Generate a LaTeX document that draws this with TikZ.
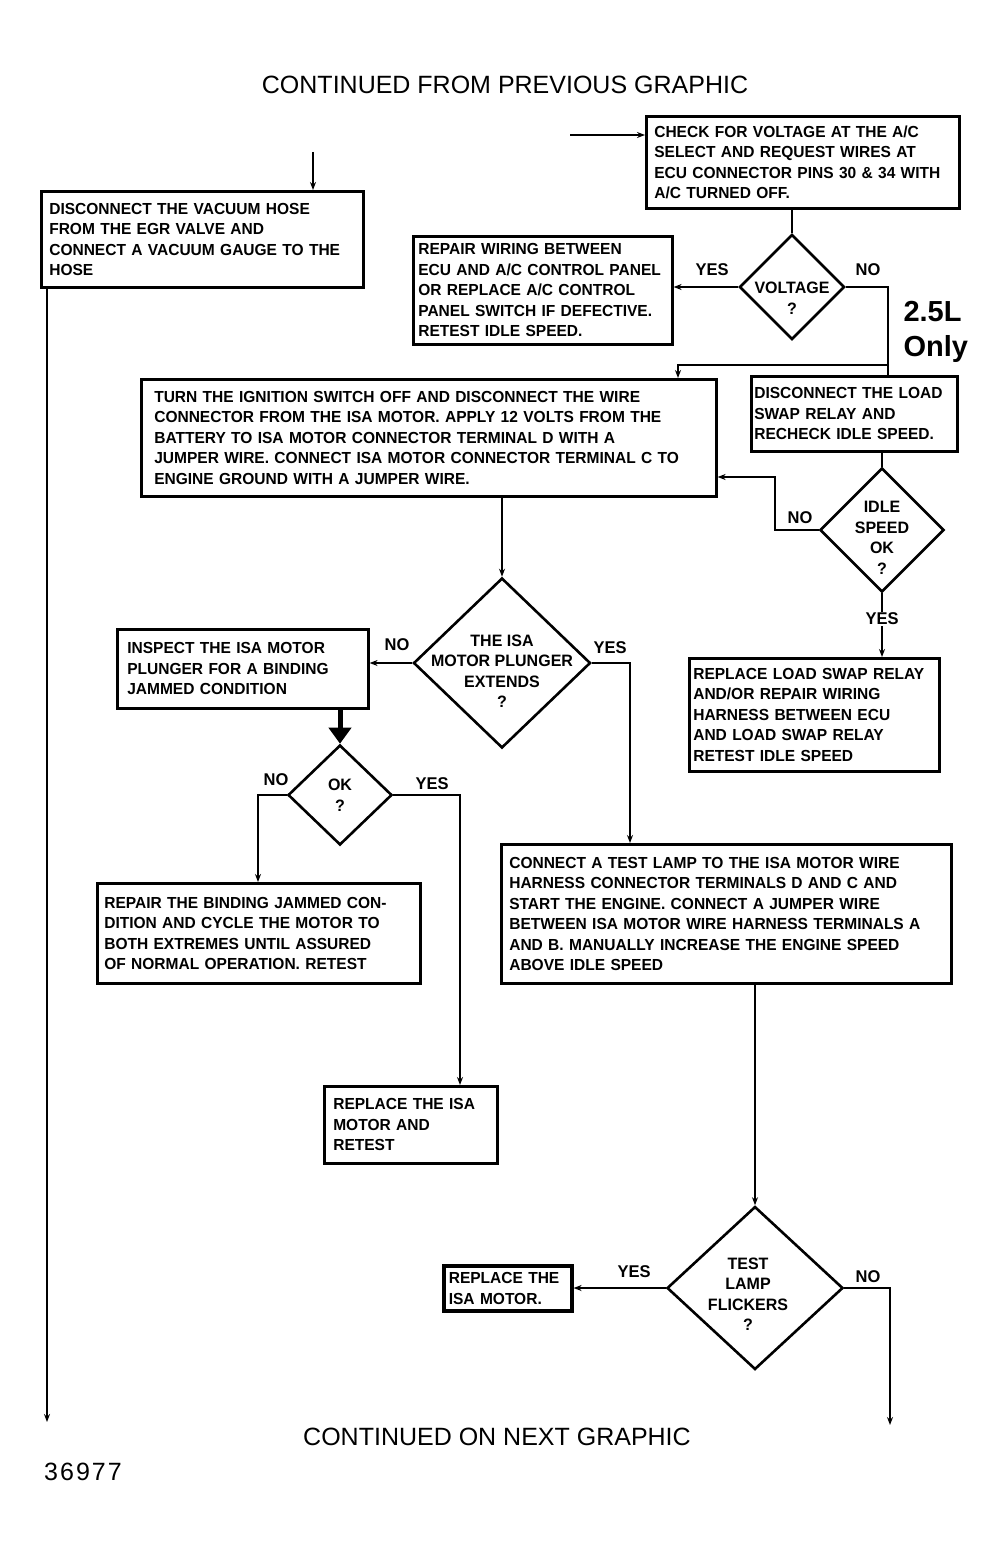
\documentclass[tikz,border=0pt]{standalone}
\usepackage{fontspec}
\setmainfont{Liberation Sans}
\newfontfamily\cond{Liberation Sans}[FakeStretch=0.97]
\usetikzlibrary{shapes.geometric,arrows.meta}
\begin{document}
\begin{tikzpicture}[x=1pt,y=-1pt,
  box/.style={draw, line width=2.6pt, anchor=north west, inner xsep=0pt, inner ysep=2pt, align=left,
    font=\cond\bfseries\fontsize{16}{20.5}\selectfont},
  dia/.style={draw, shape=diamond, line width=2.6pt, inner sep=0pt},
  dtext/.style={align=center, font=\cond\bfseries\fontsize{16.5}{20.5}\selectfont},
  lbl/.style={font=\cond\bfseries\fontsize{17}{19}\selectfont},
  conn/.style={line width=2pt},
  arr/.style={line width=2pt,-{Stealth[length=8pt,width=6pt]}},
  bigtext/.style={font=\fontsize{25}{28}\selectfont}
]
\useasboundingbox (0,0) rectangle (1005,1554);
\fill[white] (0,0) rectangle (1005,1554);

% titles
\node[bigtext] (title) at (505,85) {CONTINUED FROM PREVIOUS GRAPHIC};
\node[bigtext] (foot) at (497,1437) {CONTINUED ON NEXT GRAPHIC};
\node[font=\fontsize{25}{28}\selectfont\addfontfeatures{LetterSpace=8}] (num) at (83,1472) {36977};

% boxes
\node[box, minimum width=322, minimum height=96, text width=306] (bA) at (40,190)
 {DISCONNECT THE VACUUM HOSE\\FROM THE EGR VALVE AND\\CONNECT A VACUUM GAUGE TO THE\\HOSE};
\node[box, minimum width=313, minimum height=92, text width=297] (bB) at (645,115)
 {CHECK FOR VOLTAGE AT THE A/C\\SELECT AND REQUEST WIRES AT\\ECU CONNECTOR PINS 30 \& 34 WITH\\A/C TURNED OFF.};
\node[box, minimum width=259, minimum height=108, text width=249] (bC) at (412,235)
 {REPAIR WIRING BETWEEN\\ECU AND A/C CONTROL PANEL\\OR REPLACE A/C CONTROL\\PANEL SWITCH IF DEFECTIVE.\\RETEST IDLE SPEED.};
\node[box, minimum width=575, minimum height=117, text width=549] (bD) at (140,378)
 {TURN THE IGNITION SWITCH OFF AND DISCONNECT THE WIRE\\CONNECTOR FROM THE ISA MOTOR. APPLY 12 VOLTS FROM THE\\BATTERY TO ISA MOTOR CONNECTOR TERMINAL D WITH A\\JUMPER WIRE. CONNECT ISA MOTOR CONNECTOR TERMINAL C TO\\ENGINE GROUND WITH A JUMPER WIRE.};
\node[box, minimum width=206, minimum height=75, text width=200] (bE) at (750,375)
 {DISCONNECT THE LOAD\\SWAP RELAY AND\\RECHECK IDLE SPEED.};
\node[box, minimum width=250, minimum height=113, text width=242] (bF) at (688,657)
 {REPLACE LOAD SWAP RELAY\\AND/OR REPAIR WIRING\\HARNESS BETWEEN ECU\\AND LOAD SWAP RELAY\\RETEST IDLE SPEED};
\node[box, minimum width=251, minimum height=79, text width=231] (bG) at (116,628)
 {INSPECT THE ISA MOTOR\\PLUNGER FOR A BINDING\\JAMMED CONDITION};
\node[box, minimum width=450, minimum height=139, text width=434] (bH) at (500,843)
 {CONNECT A TEST LAMP TO THE ISA MOTOR WIRE\\HARNESS CONNECTOR TERMINALS D AND C AND\\START THE ENGINE. CONNECT A JUMPER WIRE\\BETWEEN ISA MOTOR WIRE HARNESS TERMINALS A\\AND B. MANUALLY INCREASE THE ENGINE SPEED\\ABOVE IDLE SPEED};
\node[box, minimum width=323, minimum height=100, text width=309] (bI) at (96,882)
 {REPAIR THE BINDING JAMMED CON-\\DITION AND CYCLE THE MOTOR TO\\BOTH EXTREMES UNTIL ASSURED\\OF NORMAL OPERATION. RETEST};
\node[box, minimum width=173, minimum height=77, text width=155] (bJ) at (323,1085)
 {REPLACE THE ISA\\MOTOR AND\\RETEST};
\node[box, line width=3.6pt, minimum width=128, minimum height=45, text width=118] (bK) at (442,1264)
 {REPLACE THE\\ISA MOTOR.};

% diamonds
\node[dia, minimum width=105, minimum height=105] (dV) at (792,287) {};
\node[dtext] (tV) at (792,298) {VOLTAGE\\?};
\node[dia, minimum width=124, minimum height=124] (dI) at (882,530) {};
\node[dtext] (tI) at (882,538) {IDLE\\SPEED\\OK\\?};
\node[dia, minimum width=177, minimum height=170] (dP) at (502,663) {};
\node[dtext] (tP) at (502,671) {THE ISA\\MOTOR PLUNGER\\EXTENDS\\?};
\node[dia, minimum width=104, minimum height=100] (dO) at (340,795) {};
\node[dtext] (tO) at (340,795) {OK\\?};
\node[dia, minimum width=176, minimum height=163] (dT) at (755,1288) {};
\node[dtext] (tT) at (748,1294) {TEST\\LAMP\\FLICKERS\\?};

% 2.5L Only
\node[anchor=north west, align=left, font=\bfseries\fontsize{29}{35}\selectfont] (only) at (900,298) {2.5L\\Only};

% coordinates
\coordinate (in1) at (313,152);
\coordinate (in2) at (570,135);
\coordinate (s1) at (888,365);
\coordinate (j1) at (678,365);
\coordinate (c2) at (775,477);
\coordinate (yP) at (630,663);
\coordinate (nO) at (258,795);
\coordinate (yO) at (460,795);
\coordinate (nT) at (890,1288);
\coordinate (endT) at (890,1425);
\coordinate (endA) at (47,1422);

% connectors
\draw[arr] (in1) -- (in1 |- bA.north);
\draw[arr] (in2) -- (bB.west |- in2);
\draw[conn] (dV.north |- bB.south) -- (dV.north);
\draw[arr] (dV.west) -- (bC.east |- dV.west);
\draw[conn] (dV.east) -- (s1 |- dV.east) -- (s1 |- bE.north);
\draw[arr] (s1) -- (j1) -- (j1 |- bD.north);
\draw[conn] (dI.north |- bE.south) -- (dI.north);
\draw[arr] (dI.west) -- (c2 |- dI.west) -- (c2) -- (bD.east |- c2);
\draw[arr] (dI.south) -- (dI.south |- bF.north);
\draw[arr] (dP.north |- bD.south) -- (dP.north);
\draw[arr] (dP.west) -- (bG.east |- dP.west);
\draw[arr] (dP.east) -- (yP) -- (yP |- bH.north);
\draw[line width=5pt,-{Triangle[length=16pt,width=22pt]}] (dO.north |- bG.south) -- (dO.north);
\draw[arr] (dO.west) -- (nO) -- (nO |- bI.north);
\draw[arr] (dO.east) -- (yO) -- (yO |- bJ.north);
\draw[arr] (dT.north |- bH.south) -- (dT.north);
\draw[arr] (dT.west) -- (bK.east |- dT.west);
\draw[arr] (dT.east) -- (nT) -- (endT);
\draw[arr] (endA |- bA.south) -- (endA);

% labels
\node[lbl] (l1) at (712,270) {YES};
\node[lbl] (l2) at (868,270) {NO};
\node[lbl] (l3) at (800,518) {NO};
\node[lbl, fill=white, inner sep=1pt] (l4) at (882,619) {YES};
\node[lbl] (l5) at (397,645) {NO};
\node[lbl] (l6) at (610,648) {YES};
\node[lbl] (l7) at (276,780) {NO};
\node[lbl] (l8) at (432,784) {YES};
\node[lbl] (l9) at (634,1272) {YES};
\node[lbl] (l10) at (868,1277) {NO};
\end{tikzpicture}
\end{document}
